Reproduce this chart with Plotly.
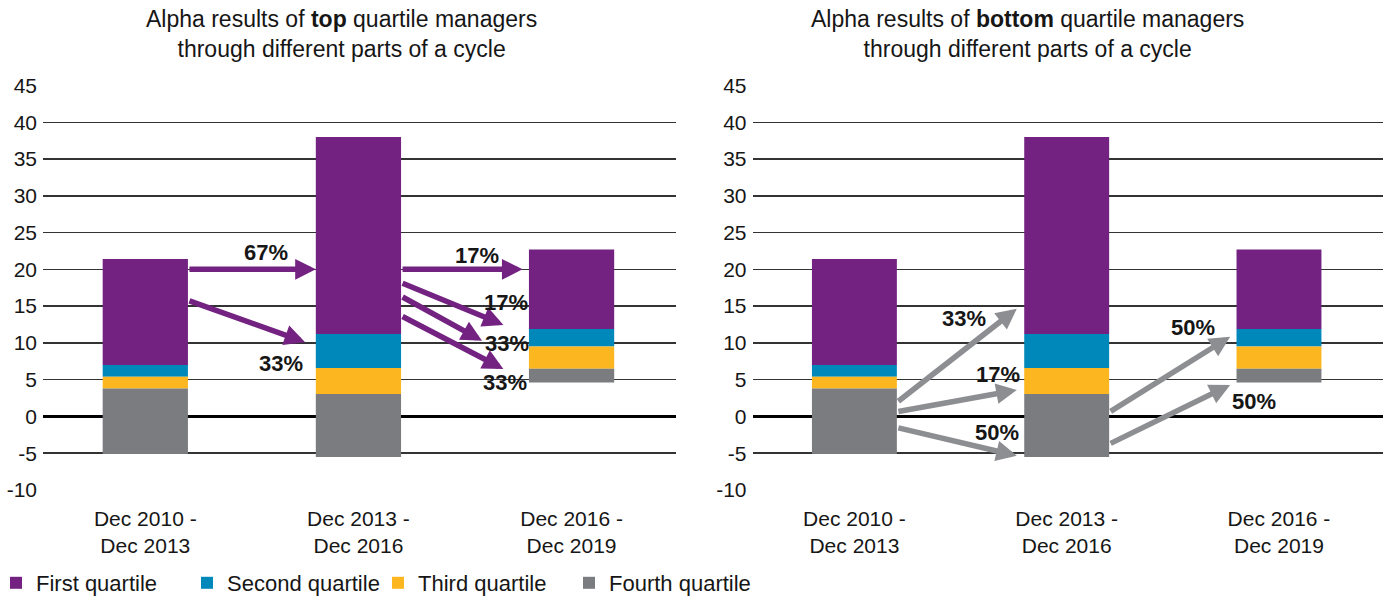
import plotly.graph_objects as go

# ---------------- data ----------------
periods = ["Dec 2010 -<br>Dec 2013", "Dec 2013 -<br>Dec 2016", "Dec 2016 -<br>Dec 2019"]
period_pos = [0, 1, 2]

# boundaries of the quartile bands (alpha, %)
fourth_low = [-5.1, -5.5, 4.6]
fourth_high = [3.8, 3.05, 6.5]
third_high = [5.4, 6.6, 9.5]
second_high = [7.0, 11.2, 11.9]
first_high = [21.4, 38.0, 22.7]

quartile_names = ["First quartile", "Second quartile", "Third quartile", "Fourth quartile"]
quartile_colors = ["#732281", "#0088BA", "#FCB61F", "#7B7C80"]

y_ticks = [-10, -5, 0, 5, 10, 15, 20, 25, 30, 35, 40, 45]

titles = [
    "Alpha results of <b>top</b> quartile managers<br>through different parts of a cycle",
    "Alpha results of <b>bottom</b> quartile managers<br>through different parts of a cycle",
]

# transition arrows: (tail x, tail y, head x, head y)
top_arrows = [
    (0.2, 20.0, 0.8, 20.0),
    (0.2, 15.8, 0.75, 10.1),
    (1.2, 20.0, 1.77, 20.0),
    (1.2, 18.2, 1.68, 12.45),
    (1.2, 16.35, 1.58, 10.3),
    (1.2, 13.7, 1.68, 6.45),
]
top_labels = ["67%", "33%", "17%", "17%", "33%", "33%"]
top_label_pos = [(0.565, 22.3), (0.635, 7.2), (1.557, 21.9), (1.693, 15.5), (1.695, 9.95), (1.688, 4.55)]

bottom_arrows = [
    (0.2, 1.9, 0.765, 14.65),
    (0.2, 0.63, 0.765, 3.6),
    (0.2, -1.5, 0.765, -5.35),
    (1.2, 0.55, 1.77, 10.85),
    (1.2, -3.76, 1.77, 4.29),
]
bottom_labels = ["33%", "17%", "50%", "50%", "50%"]
bottom_label_pos = [(0.516, 13.3), (0.676, 5.74), (0.673, -2.17), (1.593, 12.07), (1.882, 1.98)]

# ---------------- figure ----------------
FONT = "Liberation Sans"
TXT = "#161616"
W, H = 1391, 597

bands_low = [second_high, third_high, fourth_high, fourth_low]
bands_high = [first_high, second_high, third_high, fourth_high]

fig = go.Figure()
for panel, (xa, ya) in enumerate([("x", "y"), ("x2", "y2")]):
    for name, color, lo, hi in zip(quartile_names, quartile_colors, bands_low, bands_high):
        fig.add_trace(go.Bar(
            x=period_pos, y=[h - l for h, l in zip(hi, lo)], base=lo,
            name=name, marker=dict(color=color, line=dict(width=0)),
            width=0.4, xaxis=xa, yaxis=ya, showlegend=(panel == 0),
            hoverinfo="skip",
        ))

annotations = []
for arrows, labels, lpos, color, xr, yr in [
    (top_arrows, top_labels, top_label_pos, "#732281", "x", "y"),
    (bottom_arrows, bottom_labels, bottom_label_pos, "#8D8E91", "x2", "y2"),
]:
    for (tx, ty, hx, hy) in arrows:
        annotations.append(dict(
            x=hx, y=hy, ax=tx, ay=ty, xref=xr, yref=yr, axref=xr, ayref=yr,
            text="", showarrow=True, arrowhead=2, arrowsize=0.75, arrowwidth=5.5,
            arrowcolor=color, standoff=0, startstandoff=0,
        ))
    for lab, (lx, ly) in zip(labels, lpos):
        annotations.append(dict(
            x=lx, y=ly, xref=xr, yref=yr, text="<b>" + lab + "</b>", showarrow=False,
            font=dict(family=FONT, size=22, color=TXT), xanchor="center", yanchor="middle",
        ))

for t, cx in zip(titles, [341, 1027]):
    annotations.append(dict(
        x=cx / W, y=1 - 34.5 / H, xref="paper", yref="paper", text=t, showarrow=False,
        font=dict(family=FONT, size=23, color=TXT), xanchor="center", yanchor="middle",
        align="center",
    ))

y_dom = [(H - 490.7) / H, (H - 84.8) / H]
axis_common = dict(
    tickmode="array", tickvals=period_pos, ticktext=periods, range=[-0.48, 2.49],
    showgrid=False, zeroline=False, showline=False, ticks="", automargin=False,
    ticklabelstandoff=13,
    tickfont=dict(family=FONT, size=21, color=TXT), fixedrange=True,
)
yaxis_common = dict(
    range=[-10.1, 45.1], tickmode="array", tickvals=y_ticks, ticktext=[str(v) for v in y_ticks],
    showgrid=True, gridcolor="#333333", gridwidth=1.5,
    zeroline=True, zerolinecolor="#000000", zerolinewidth=3,
    showline=False, ticks="", ticklabelstandoff=5, automargin=False,
    tickfont=dict(family=FONT, size=21, color=TXT), domain=y_dom, fixedrange=True,
)

fig.update_layout(
    width=W, height=H,
    margin=dict(l=0, r=0, t=0, b=0, pad=0, autoexpand=False),
    paper_bgcolor="white", plot_bgcolor="white",
    barmode="overlay",
    font=dict(family=FONT, size=21, color=TXT),
    xaxis=dict(domain=[43 / W, 676 / W], anchor="y", **axis_common),
    yaxis=dict(anchor="x", **yaxis_common),
    xaxis2=dict(domain=[752.5 / W, 1383 / W], anchor="y2", **axis_common),
    yaxis2=dict(anchor="x2", **yaxis_common),
    legend=dict(
        orientation="h", x=0, xanchor="left", y=(H - 583) / H, yanchor="middle",
        indentation=-4, entrywidth=150, entrywidthmode="pixels",
        font=dict(family=FONT, size=22, color=TXT), traceorder="normal",
        bgcolor="rgba(0,0,0,0)", itemclick=False, itemdoubleclick=False,
    ),
    annotations=annotations,
    showlegend=True,
)

fig.write_html(
    "out.html",
    config={"displayModeBar": False, "staticPlot": True},
    post_script="document.body.style.margin='0';document.body.style.overflow='hidden';",
)
